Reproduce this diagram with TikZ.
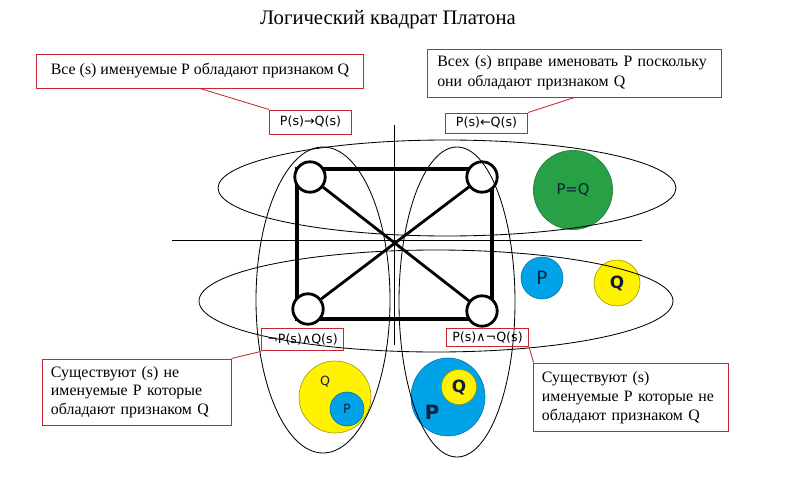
\documentclass[tikz,border=0pt]{standalone}
\usepackage{fontspec}
\setmainfont{Liberation Serif}
\newfontfamily\lblfont{DejaVu Sans}
\usetikzlibrary{shapes.geometric}
\definecolor{boxred}{RGB}{195,40,50}
\definecolor{pgreen}{RGB}{40,160,70}
\definecolor{pblue}{RGB}{0,162,232}
\definecolor{qyellow}{RGB}{255,242,0}
\definecolor{inkdark}{RGB}{20,30,60}
\begin{document}
\begin{tikzpicture}[x=0.025cm,y=-0.025cm]
    \tikzstyle{every node}+=[inner sep=0pt]
    \tikzstyle{textbox}=[draw=boxred, line width=0.7pt, fill=white, font=\fontsize{11.3}{13.4}\selectfont]
    \tikzstyle{formula}=[draw=boxred, line width=0.7pt, minimum width=2.05cm, font=\lblfont\fontsize{9}{10}\selectfont]
    \tikzstyle{corner}=[circle, draw, fill=white, line width=2pt, minimum size=0.76cm]
    \tikzstyle{thinline}=[line width=0.6pt]
    \tikzstyle{redline}=[draw=boxred, line width=0.6pt]
    \tikzstyle{set}=[circle, text=inkdark, font=\lblfont\fontsize{11}{13}\selectfont]
    \useasboundingbox (0,0) rectangle (801,499);
    \node[font=\fontsize{14.7}{17}\selectfont] (title) at (388,20) {Логический квадрат Платона};
    % sets
    \node[set, fill=pgreen, draw=pgreen!70!black, minimum size=1.98cm, font=\lblfont\fontsize{10.5}{12}\selectfont] (eq) at (573,190) {P=Q};
    \node[set, fill=pblue, draw=pblue!70!black, minimum size=1.05cm, font=\lblfont\fontsize{13}{15}\selectfont] (pone) at (542,278) {P};
    \node[set, fill=qyellow, draw=qyellow!60!black, minimum size=1.15cm, font=\lblfont\bfseries\fontsize{12}{14}\selectfont] (qone) at (617,283) {Q};
    \node[set, fill=qyellow, draw=qyellow!60!black, minimum size=1.8cm] (qouter) at (335,397) {};
    \node[text=inkdark, font=\lblfont\fontsize{9}{11}\selectfont] (qtag) at (325,382) {Q};
    \node[set, fill=pblue, draw=pblue!70!black, minimum size=0.85cm, font=\lblfont\fontsize{9}{11}\selectfont] (pinner) at (347,409) {P};
    \node[set, ellipse, fill=pblue, draw=pblue!70!black, minimum width=1.85cm, minimum height=1.95cm] (pouter) at (448,397) {};
    \node[set, fill=qyellow, draw=qyellow!60!black, minimum size=0.88cm, font=\lblfont\bfseries\fontsize{12}{14}\selectfont] (qinner) at (459,387) {Q};
    \node[text=inkdark, font=\lblfont\bfseries\fontsize{14}{16}\selectfont] (ptag) at (432,412) {P};
    % square
    \draw [line width=2.6pt] (297,169) rectangle (492,319);
    \node[corner] (tl) at (310,177) {};
    \node[corner] (tr) at (482,177) {};
    \node[corner] (bl) at (308,309) {};
    \node[corner] (br) at (482,311) {};
    \draw [line width=2pt] (tl) -- (br);
    \draw [line width=2pt] (tr) -- (bl);
    % axes and ellipses
    \draw [thinline] (394,125) -- (394,345);
    \draw [thinline] (172,240) -- (642,240);
    \draw [thinline] (447,188) ellipse [x radius=229, y radius=48];
    \draw [thinline] (436,301) ellipse [x radius=237, y radius=51];
    \draw [thinline] (323,300) ellipse [x radius=67, y radius=153];
    \draw [thinline] (457,302) ellipse [x radius=58, y radius=155];
    % statements
    \node[textbox, minimum width=8.15cm, minimum height=0.85cm] (allp) at (200,71) {Все (s) именуемые P обладают признаком Q};
    \node[textbox, text width=6.86cm, inner xsep=0.25cm, minimum height=1.2cm, align=left, font=\fontsize{11.3}{14.2}\selectfont] (allq) at (574.5,73) {Всех (s) вправе именовать P поскольку\\они обладают признаком Q};
    \node[textbox, text width=4.3cm, inner xsep=0.2cm, minimum height=1.65cm, align=left, font=\fontsize{11.3}{13.2}\selectfont] (somenot) at (137,392) {Существуют (s) не\\именуемые P которые\\обладают признаком Q};
    \node[textbox, text width=4.45cm, inner xsep=0.2cm, minimum height=1.72cm, align=left, font=\fontsize{11.3}{13.6}\selectfont] (someare) at (631,397.5) {Существуют (s)\\именуемые P которые не\\обладают признаком Q};
    \node[formula, minimum height=0.6cm] (impl) at (310.5,122) {P(s)→Q(s)};
    \node[formula, minimum height=0.5cm] (conv) at (486.5,123) {P(s)←Q(s)};
    \node[formula, minimum height=0.57cm] (negand) at (302.5,339.5) {¬P(s)∧Q(s)};
    \node[formula, minimum height=0.43cm] (andneg) at (487.5,337.5) {P(s)∧¬Q(s)};
    \draw [redline] (allp.south) -- (impl.north west);
    \draw [redline] (allq.south) -- (conv.north east);
    \draw [redline] (somenot.north east) -- (negand.south west);
    \draw [redline] (andneg.south east) -- (someare.north west);
\end{tikzpicture}
\end{document}
